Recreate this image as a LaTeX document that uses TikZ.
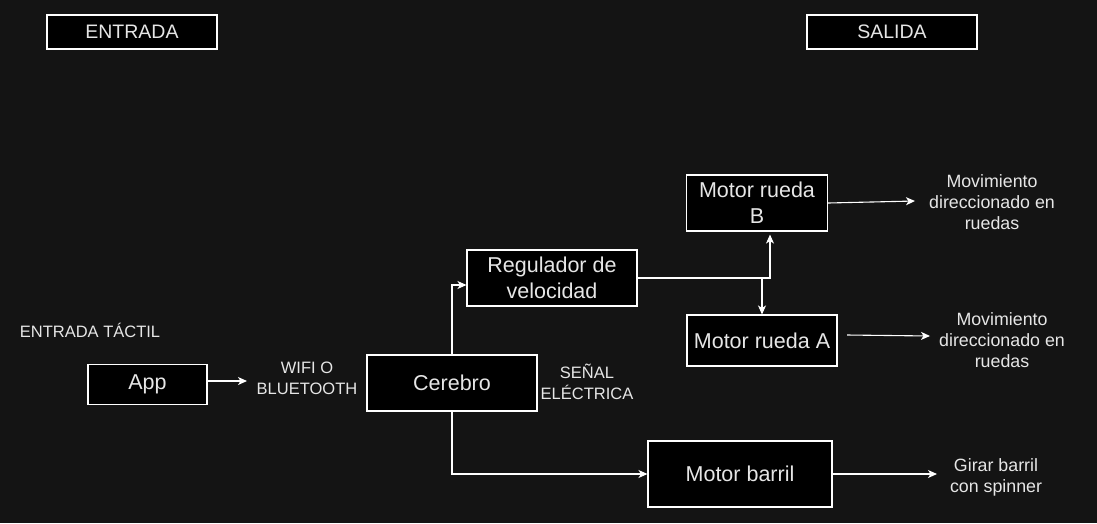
\documentclass[tikz,border=0pt]{standalone}
\usepackage{fontspec}
\setmainfont{Liberation Sans}
\usetikzlibrary{arrows.meta}
\definecolor{bg}{HTML}{141414}
\definecolor{txt}{HTML}{E6E6E6}
\begin{document}
\begin{tikzpicture}[x=1pt,y=-1pt,
  box/.style={draw=white, fill=black, line width=1.1pt, text=txt, align=center, inner sep=0pt,
    font=\fontsize{21.5}{26}\selectfont},
  hdr/.style={box, minimum width=170pt, minimum height=34pt, font=\fontsize{19.5}{23}\selectfont},
  lbl/.style={text=txt, align=center, inner sep=0pt, font=\fontsize{16.5}{21}\selectfont},
  outlbl/.style={lbl, font=\fontsize{17.8}{21}\selectfont},
  conn/.style={draw=white, line width=1.1pt, -{Stealth[length=9pt,width=8pt,inset=2.5pt]}}]
\fill[bg] (0,0) rectangle (1097,523);
\useasboundingbox (0,0) rectangle (1097,523);

\node[hdr] (entrada) at (132,32) {ENTRADA};
\node[hdr] (salida) at (892,32) {SALIDA};

\node[box, minimum width=119pt, minimum height=40pt] (app) at (147.5,384.5) {App};
\node[box, minimum width=170pt, minimum height=56pt] (cerebro) at (452,383) {Cerebro};
\node[box, minimum width=170pt, minimum height=56pt] (reg) at (552,278) {Regulador de\\velocidad};
\node[box, minimum width=141pt, minimum height=56pt] (mrB) at (757,203) {Motor rueda\\B};
\node[box, minimum width=150pt, minimum height=51pt] (mrA) at (762,340.5) {Motor rueda A};
\node[box, minimum width=184pt, minimum height=66pt] (mbar) at (740,474) {Motor barril};

\node[lbl] (tactil) at (90,330) {ENTRADA TÁCTIL};
\node[lbl] (wifi) at (307,378) {WIFI O\\BLUETOOTH};
\node[lbl] (senal) at (587,382) {SEÑAL\\ELÉCTRICA};
\node[outlbl] (movB) at (992,202) {Movimiento\\direccionado en\\ruedas};
\node[outlbl] (movA) at (1002,340) {Movimiento\\direccionado en\\ruedas};
\node[outlbl] (girar) at (996,477) {Girar barril\\con spinner};

\coordinate (wifiIn) at (247,381);
\coordinate (mvBin) at (915,201);
\coordinate (mvAout) at (847,335);
\coordinate (mvAin) at (930,336);
\coordinate (girIn) at (937,474);

\draw[conn] (app.east |- wifiIn) -- (wifiIn);
\draw[conn] (cerebro.north) |- ([yshift=-7pt]reg.west);
\draw[conn] (cerebro.south) |- (mbar.west);
\draw[conn] (reg.east) -| ([xshift=13pt,yshift=-3pt]mrB.south);
\draw[conn] (reg.east -| mrA.north) -- (mrA.north);
\draw[conn] (mrB.east) -- (mvBin);
\draw[conn] (mvAout) -- (mvAin);
\draw[conn] (mbar.east) -- (girIn);
\end{tikzpicture}
\end{document}
